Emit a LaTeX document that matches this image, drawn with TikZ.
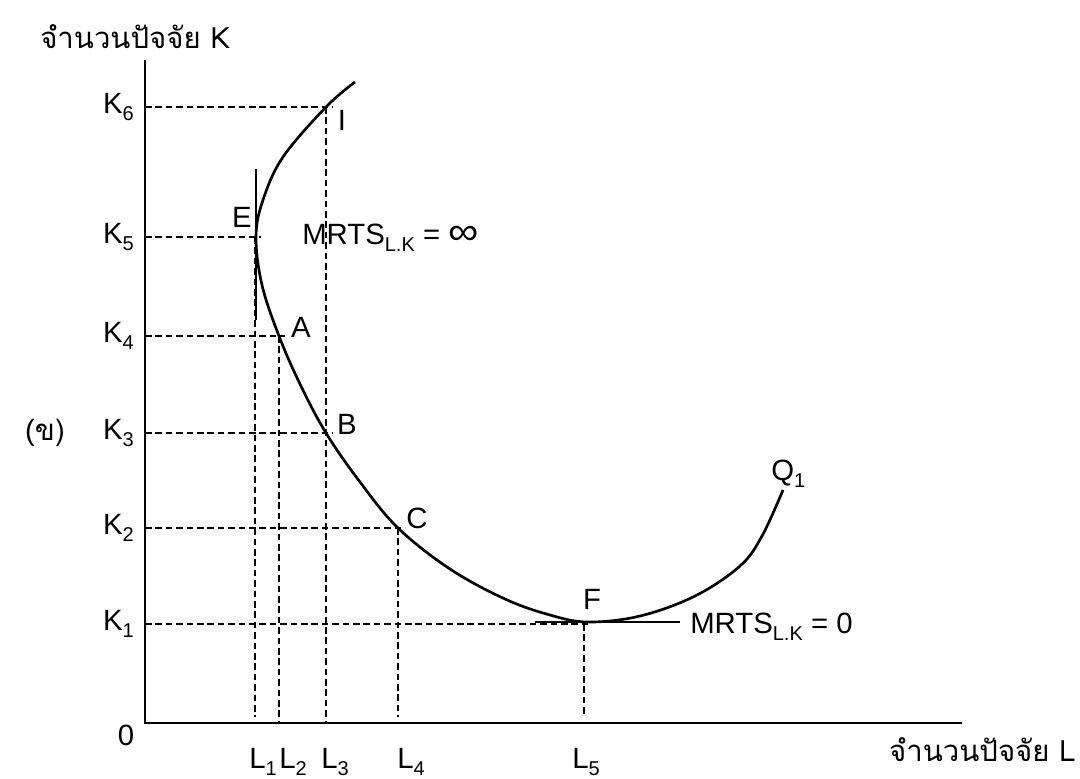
\documentclass[tikz,border=0pt]{standalone}
\usepackage{fontspec}
\setmainfont{Liberation Sans}
\newfontfamily\thaifont[Script=Thai]{Loma}
\newcommand\lsub[1]{\raisebox{-5pt}{\fontsize{15}{16}\selectfont #1}}
\tikzset{
  axis/.style={line width=2.2pt},
  guide/.style={line width=1.2pt, dash pattern=on 5pt off 2.8pt},
  curve/.style={line width=2pt},
  tangent/.style={line width=1.8pt},
  lbl/.style={inner sep=0pt},
}
\begin{document}
\begin{tikzpicture}[x=0.75pt,y=-0.75pt,font=\fontsize{22}{24}\selectfont]
\useasboundingbox (0,0) rectangle (1080,778);
% axes
\coordinate (O) at (145,723);
\coordinate (Ytop) at (145,60);
\coordinate (Xend) at (962,723);
\draw[axis] (Ytop) -- (O) -- (Xend);
% key points
\coordinate (I) at (326,107);
\coordinate (E) at (256,237);
\coordinate (A) at (279,336);
\coordinate (B) at (326,433);
\coordinate (C) at (398,528);
\coordinate (F) at (588,622);
% guide lines
\coordinate (k6) at (145,107); \coordinate (k6e) at (333,107);
\coordinate (k5) at (145,237); \coordinate (k5e) at (261,237);
\coordinate (k4) at (145,336); \coordinate (k4e) at (285,336);
\coordinate (k3) at (145,433); \coordinate (k3e) at (333,433);
\coordinate (k2) at (145,528); \coordinate (k2e) at (405,528);
\coordinate (k1) at (145,624); \coordinate (k1e) at (590,624);
\draw[guide] (k6) -- (k6e);
\draw[guide] (k5) -- (k5e);
\draw[guide] (k4) -- (k4e);
\draw[guide] (k3) -- (k3e);
\draw[guide] (k2) -- (k2e);
\draw[guide] (k1) -- (k1e);
\coordinate (l1t) at (255,237); \coordinate (l1b) at (255,717);
\coordinate (l2t) at (279,336); \coordinate (l2b) at (279,723);
\coordinate (l3t) at (326,107); \coordinate (l3b) at (326,723);
\coordinate (l4t) at (398,528); \coordinate (l4b) at (398,717);
\coordinate (l5t) at (584,624); \coordinate (l5b) at (584,717);
\draw[guide] (l1t) -- (l1b);
\draw[guide] (l2t) -- (l2b);
\draw[guide] (l3t) -- (l3b);
\draw[guide] (l4t) -- (l4b);
\draw[guide] (l5t) -- (l5b);
% tangents
\coordinate (vt1) at (256,169); \coordinate (vt2) at (256,320);
\draw[tangent] (vt1) -- (vt2);
\coordinate (ht1) at (535,622); \coordinate (ht2) at (680,622);
\draw[tangent] (ht1) -- (ht2);
% isoquant
\draw[curve] plot[smooth, tension=0.6] coordinates {
  (355,82) (326,107) (283,157) (263,200) (256,237) (262,285) (279,336)
  (300,384) (326,433) (360,482) (398,528) (450,569) (505,599) (550,615) (588,622)
  (640,616) (695,596) (740,566) (762,536) (783,490)};
% labels
\node[lbl,anchor=west] (ytitle) at (40,37) {\thaifont จำนวนปัจจัย K};
\node[lbl,anchor=east] (xtitle) at (1076,750) {\thaifont จำนวนปัจจัย L};
\node[lbl] (zero) at (126,735) {0};
\node[lbl,anchor=east] (K6) at (134,107) {K\lsub{6}};
\node[lbl,anchor=east] (K5) at (134,237) {K\lsub{5}};
\node[lbl,anchor=east] (K4) at (134,336) {K\lsub{4}};
\node[lbl,anchor=east] (K3) at (134,433) {K\lsub{3}};
\node[lbl,anchor=east] (K2) at (134,528) {K\lsub{2}};
\node[lbl,anchor=east] (K1) at (134,624) {K\lsub{1}};
\node[lbl,anchor=west] (L1) at (249,762) {L\lsub{1}};
\node[lbl,anchor=west] (L2) at (279,762) {L\lsub{2}};
\node[lbl,anchor=west] (L3) at (321,762) {L\lsub{3}};
\node[lbl,anchor=west] (L4) at (397,762) {L\lsub{4}};
\node[lbl,anchor=west] (L5) at (572,762) {L\lsub{5}};
\node[lbl] (labI) at (342,120) {I};
\node[lbl] (labE) at (242,217) {E};
\node[lbl] (labA) at (301,327) {A};
\node[lbl] (labB) at (347,424) {B};
\node[lbl] (labC) at (417,518) {C};
\node[lbl] (labF) at (592,599) {F};
\node[lbl,anchor=west] (labQ) at (771,474) {Q\lsub{1}};
\node[lbl,anchor=west] (mrtsinf) at (302,238) {MRTS\lsub{L.K} = \scalebox{1.45}[1.3]{∞}};
\node[lbl,anchor=west] (mrts0) at (690,627) {MRTS\lsub{L.K} = 0};
\node[lbl] (kho) at (45,433) {(\thaifont ข)};
\end{tikzpicture}
\end{document}
